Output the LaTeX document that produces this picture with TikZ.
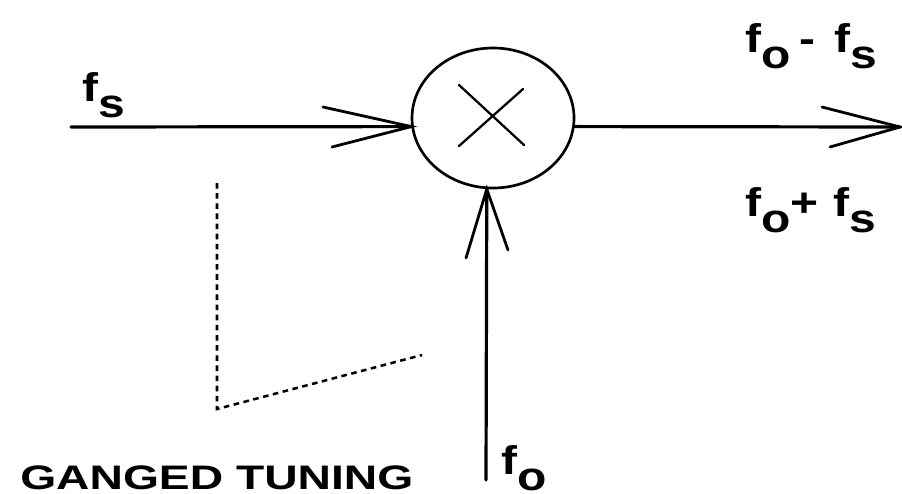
\documentclass[tikz,border=0pt]{standalone}
\usepackage{fontspec}
\usepackage{graphicx}
\setmainfont{Liberation Sans}
\usetikzlibrary{shapes.geometric}
\newcommand{\wider}[1]{\scalebox{1.2}[1]{#1}}
\newcommand{\lowered}[1]{\raisebox{-12pt}{\wider{#1}}}
\tikzset{
 sig/.style={line width=2.4pt,line cap=round},
 barb/.style={line width=2.1pt,line cap=round},
 lab/.style={font=\bfseries\fontsize{30}{30}\selectfont,inner sep=0pt,anchor=base west},
 dots/.style={line width=1.9pt,dash pattern=on 4.2pt off 3.4pt}
}
\begin{document}
\begin{tikzpicture}[x=0.75pt,y=-0.75pt]
\useasboundingbox (0,0) rectangle (902,493);
\fill[white] (0,0) rectangle (902,493);
\node[ellipse,draw,line width=2pt,minimum width=121.5pt,minimum height=105pt,inner sep=0pt] (mix) at (493,118) {};
\draw[barb,line width=1.7pt] (459,85) -- (524,145) (523,89) -- (459,146);
\coordinate (in) at (71,127);
\coordinate (out) at (900,127);
\coordinate (lo) at (486,480);
\coordinate (inA) at (323,107);
\coordinate (inB) at (332,147);
\coordinate (outA) at (822,107);
\coordinate (outB) at (830,147);
\coordinate (loA) at (466,258);
\coordinate (loB) at (508,250);
\draw[sig] (in) -- (mix.186);
\draw[sig] (mix.-6) -- (out);
\draw[sig] (lo) -- (mix.265);
\draw[barb] (inA) -- (mix.186) -- (inB);
\draw[barb] (outA) -- (out) -- (outB);
\draw[barb] (loA) -- (mix.265) -- (loB);
\coordinate (g1) at (217,183);
\coordinate (g2) at (217,409);
\coordinate (g3) at (422,355);
\draw[dots] (g1) -- (g2) -- (g3);
\node[lab] (t1) at (82,101) {\wider{f}\lowered{s}};
\node[lab] (t2) at (745,52) {\wider{f}\lowered{o}\hspace{7pt}\wider{-}\hspace{14pt}\wider{f}\lowered{s}};
\node[lab] (t3) at (745,216) {\wider{f}\lowered{o}\wider{+}\hspace{11pt}\wider{f}\lowered{s}};
\node[lab] (t4) at (501,474) {\wider{f}\lowered{o}};
\node[lab,font=\bfseries\fontsize{25.5}{25.5}\selectfont] (t5) at (20,489) {\scalebox{1.36}[1]{GANGED TUNING}};
\end{tikzpicture}
\end{document}
